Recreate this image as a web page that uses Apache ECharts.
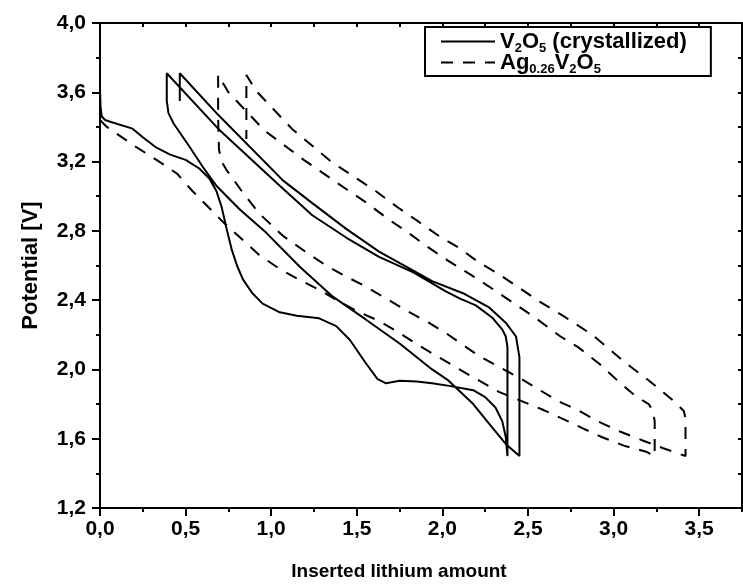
<!DOCTYPE html>
<html>
<head>
<meta charset="utf-8">
<script src="https://cdn.jsdelivr.net/npm/echarts@6/dist/echarts.min.js"></script>
<style>
  html, body { margin: 0; padding: 0; background: #fff; }
  #chart { width: 743px; height: 587px; }
</style>
</head>
<body>
<div id="chart"></div>
<script>
// V2O5 (crystallized), solid line as [x, potential]
const v2o5Discharge1 = [
  [0, 3.62], [0.003, 3.52], [0.01, 3.46], [0.03, 3.44], [0.06, 3.43], [0.19, 3.39],
  [0.25, 3.34], [0.33, 3.28], [0.41, 3.24], [0.5, 3.21], [0.58, 3.16], [0.64, 3.10],
  [0.68, 3.03], [0.71, 2.94], [0.74, 2.81], [0.77, 2.69], [0.8, 2.60], [0.835, 2.52],
  [0.89, 2.44], [0.95, 2.38], [1.05, 2.33], [1.15, 2.31], [1.28, 2.295], [1.38, 2.25],
  [1.46, 2.17], [1.55, 2.04], [1.62, 1.945], [1.67, 1.92], [1.75, 1.935], [1.85, 1.93],
  [1.94, 1.92], [2.04, 1.905], [2.18, 1.88], [2.25, 1.84], [2.31, 1.78], [2.35, 1.70],
  [2.37, 1.61], [2.38, 1.50]
];
const v2o5Charge1 = [
  [2.38, 2.13], [2.37, 2.19], [2.35, 2.23], [2.29, 2.30], [2.195, 2.37], [2.10, 2.41],
  [2.02, 2.45], [1.83, 2.56], [1.63, 2.65], [1.44, 2.76], [1.24, 2.89], [1.05, 3.06],
  [0.69, 3.39], [0.39, 3.71]
];
const v2o5Discharge2 = [
  [0.39, 3.55], [0.40, 3.48], [0.43, 3.42], [0.52, 3.29], [0.60, 3.17], [0.68, 3.06],
  [0.74, 3.00], [0.82, 2.92], [0.97, 2.79], [1.17, 2.59], [1.36, 2.42], [1.55, 2.29],
  [1.75, 2.15], [1.94, 2.00], [2.03, 1.94], [2.18, 1.80], [2.27, 1.69], [2.37, 1.57],
  [2.45, 1.50]
];
const v2o5Charge2 = [
  [2.45, 2.07], [2.43, 2.19], [2.37, 2.27], [2.27, 2.36], [2.12, 2.44], [1.94, 2.51],
  [1.83, 2.57], [1.63, 2.68], [1.44, 2.81], [1.24, 2.96], [1.07, 3.09], [0.69, 3.47],
  [0.466, 3.71], [0.466, 3.55]
];

// Ag0.26V2O5, dashed line
const agDischarge1 = [
  [0, 3.44], [0.04, 3.40], [0.21, 3.285], [0.33, 3.21], [0.45, 3.13], [0.54, 3.03],
  [0.66, 2.91], [0.72, 2.85], [0.82, 2.76], [0.93, 2.66], [1.05, 2.58], [1.16, 2.52],
  [1.28, 2.46], [1.40, 2.39], [1.515, 2.33], [1.63, 2.28], [1.75, 2.21], [1.86, 2.14],
  [1.98, 2.07], [2.10, 2.00], [2.33, 1.87], [2.58, 1.77], [2.67, 1.73], [2.82, 1.66],
  [2.93, 1.61], [3.06, 1.56], [3.19, 1.525], [3.24, 1.50]
];
const agCharge1 = [
  [3.24, 1.70], [3.23, 1.76], [3.205, 1.80], [3.13, 1.845], [3.04, 1.92], [2.92, 2.03],
  [2.79, 2.13], [2.69, 2.19], [2.54, 2.30], [2.39, 2.40], [2.27, 2.48], [2.16, 2.55],
  [2.03, 2.63], [1.91, 2.71], [1.80, 2.79], [1.68, 2.87], [1.56, 2.96], [1.44, 3.04],
  [1.19, 3.21], [0.96, 3.38], [0.75, 3.60], [0.69, 3.70]
];
const agDischarge2 = [
  [0.69, 3.45], [0.695, 3.27], [0.71, 3.20], [0.74, 3.15], [0.835, 3.02], [0.93, 2.90],
  [1.07, 2.77], [1.20, 2.68], [1.32, 2.60], [1.44, 2.535], [1.55, 2.48], [1.67, 2.41],
  [1.79, 2.34], [1.92, 2.27], [2.02, 2.21], [2.21, 2.08], [2.47, 1.94], [2.67, 1.82],
  [2.80, 1.76], [2.91, 1.70], [3.04, 1.64], [3.17, 1.59], [3.29, 1.545], [3.42, 1.50]
];
const agCharge2 = [
  [3.42, 1.72], [3.41, 1.76], [3.36, 1.81], [3.30, 1.86], [3.20, 1.94], [3.08, 2.03],
  [2.96, 2.13], [2.875, 2.20], [2.72, 2.30], [2.57, 2.39], [2.45, 2.47], [2.33, 2.55],
  [2.21, 2.62], [2.10, 2.70], [1.98, 2.77], [1.865, 2.85], [1.74, 2.935], [1.61, 3.03],
  [1.35, 3.20], [1.12, 3.39], [0.91, 3.61], [0.855, 3.70], [0.855, 3.33]
];

const seriesNames = ['V2O5', 'Ag0.26V2O5'];
const legendLabels = {
  'V2O5': 'V{s|2}O{s|5} (crystallized)',
  'Ag0.26V2O5': 'Ag{s|0.26}V{s|2}O{s|5}'
};
const xAxisName = 'Inserted lithium amount';
const yAxisName = 'Potential [V]';

const font = '"Liberation Sans", Arial, sans-serif';
const comma = v => v.toFixed(1).replace('.', ',');

const chart = echarts.init(document.getElementById('chart'));

const xCommon = { type: 'value', min: 0, max: 3.75, gridIndex: 0, splitLine: { show: false } };
const yCommon = { type: 'value', min: 1.2, max: 4.0, gridIndex: 0, splitLine: { show: false } };
const axisLine = { show: true, onZero: false, lineStyle: { color: '#000', width: 2 } };

chart.setOption({
  animation: false,
  backgroundColor: '#fff',
  grid: { left: 100, right: 1, top: 23, bottom: 79 },
  legend: {
    data: seriesNames,
    orient: 'vertical',
    left: 425,
    top: 27,
    itemWidth: 54,
    itemHeight: 14,
    itemGap: -6,
    padding: [1, 24, 0, 15],
    borderColor: '#000',
    borderWidth: 2,
    backgroundColor: '#fff',
    itemStyle: { opacity: 0 },
    formatter: name => legendLabels[name],
    textStyle: {
      fontFamily: font, fontSize: 22, fontWeight: 'bold', color: '#000', lineHeight: 21,
      rich: {
        s: { fontFamily: font, fontSize: 13, fontWeight: 'bold', color: '#000', lineHeight: 13, padding: [14, 0, 0, 0] }
      }
    }
  },
  xAxis: [
    Object.assign({}, xCommon, {
      position: 'bottom',
      interval: 0.5,
      axisLine: axisLine,
      axisTick: { show: true, inside: false, length: 8, lineStyle: { color: '#000', width: 2 } },
      axisLabel: {
        show: true, margin: 11, showMaxLabel: false,
        fontFamily: font, fontSize: 21, fontWeight: 'bold', color: '#000',
        formatter: v => (v > 3.6 ? '' : comma(v))
      },
      name: xAxisName,
      nameLocation: 'middle',
      nameGap: 54,
      nameTextStyle: { fontFamily: font, fontSize: 19, fontWeight: 'bold', color: '#000', padding: [0, 44, 0, 0] }
    }),
    Object.assign({}, xCommon, {
      position: 'bottom',
      interval: 0.25,
      axisLine: { show: false },
      axisTick: { show: true, inside: false, length: 4, lineStyle: { color: '#000', width: 2 } },
      axisLabel: { show: false }
    }),
    Object.assign({}, xCommon, {
      position: 'top',
      interval: 0.25,
      axisLine: axisLine,
      axisTick: { show: true, inside: true, length: 4, lineStyle: { color: '#000', width: 2 } },
      axisLabel: { show: false }
    })
  ],
  yAxis: [
    Object.assign({}, yCommon, {
      position: 'left',
      interval: 0.4,
      axisLine: axisLine,
      axisTick: { show: true, inside: false, length: 8, lineStyle: { color: '#000', width: 2 } },
      minorTick: { show: true, splitNumber: 2, length: 4, lineStyle: { color: '#000', width: 2 } },
      axisLabel: {
        show: true, margin: 14,
        fontFamily: font, fontSize: 21, fontWeight: 'bold', color: '#000',
        formatter: v => comma(v)
      },
      name: yAxisName,
      nameLocation: 'middle',
      nameGap: 58,
      nameTextStyle: { fontFamily: font, fontSize: 22, fontWeight: 'bold', color: '#000' }
    }),
    Object.assign({}, yCommon, {
      position: 'right',
      interval: 0.2,
      axisLine: axisLine,
      axisTick: { show: true, inside: true, length: 4, lineStyle: { color: '#000', width: 2 } },
      axisLabel: { show: false }
    })
  ],
  series: [
    {
      name: seriesNames[0],
      type: 'line',
      xAxisIndex: 0,
      yAxisIndex: 0,
      symbol: 'none',
      data: v2o5Discharge1.concat(v2o5Charge1, v2o5Discharge2, v2o5Charge2),
      lineStyle: { color: '#000', width: 2 },
      itemStyle: { color: '#000' }
    },
    {
      name: seriesNames[1],
      type: 'line',
      xAxisIndex: 0,
      yAxisIndex: 0,
      symbol: 'none',
      data: agDischarge1.concat(agCharge1, agDischarge2, agCharge2),
      lineStyle: { color: '#000', width: 2, type: [12, 10] },
      itemStyle: { color: '#000' }
    }
  ]
});
</script>
</body>
</html>
